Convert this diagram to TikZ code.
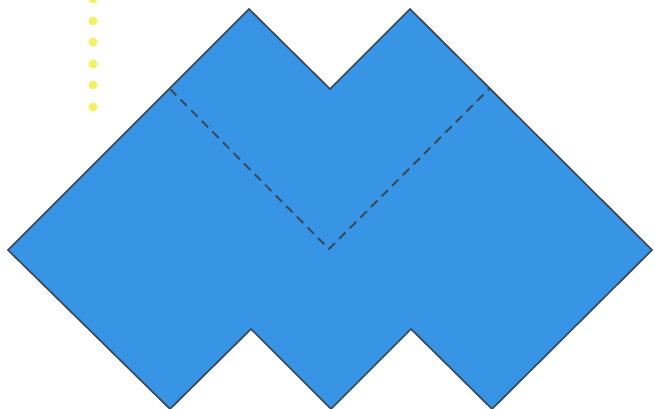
\documentclass[tikz,border=0pt]{standalone}
\begin{document}
\begin{tikzpicture}[x=1pt, y=-1pt,
      paper/.style={fill=paperblue, draw=edgegray, line width=1.7pt, line join=miter},
      fold/.style={draw=edgegray, line width=1.9pt, dash pattern=on 9pt off 6pt},
      dot/.style={circle, fill=dotyellow, inner sep=0pt, minimum size=9pt}]
    \definecolor{paperblue}{RGB}{56,148,228}
    \definecolor{edgegray}{RGB}{58,74,88}
    \definecolor{dotyellow}{RGB}{244,240,100}
    \useasboundingbox (0,0) rectangle (655,409);
    \clip (0,0) rectangle (655,409);

    % ---------------- the folded sheet ----------------
    \coordinate (l)   at (8,250);
    \coordinate (t1)  at (249,9);
    \coordinate (tv)  at (330,89);
    \coordinate (t2)  at (410,9);
    \coordinate (r)   at (652,250);
    \coordinate (b3)  at (492,409);
    \coordinate (bp2) at (411,329);
    \coordinate (b2)  at (331,409);
    \coordinate (bp1) at (251,329);
    \coordinate (b1)  at (170,409);
    \draw[paper] (l) -- (t1) -- (tv) -- (t2) -- (r) -- (b3) -- (bp2) -- (b2) -- (bp1) -- (b1) -- cycle;

    % fold line
    \coordinate (fl) at (170,89);
    \coordinate (fm) at (329,249);
    \coordinate (fr) at (490,88);
    \draw[fold] (fl) -- (fm) -- (fr);

    % ---------------- dotted guide ----------------
    \foreach \y [count=\i] in {-1,21,42,64,85,107}
      \node[dot] (d\i) at (93,\y) {};
  \end{tikzpicture}
\end{document}
